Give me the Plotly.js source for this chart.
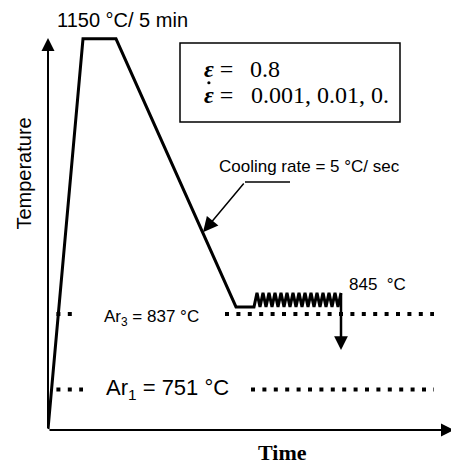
<!DOCTYPE html>
<html><head><meta charset="utf-8">
<script src="https://cdn.plot.ly/plotly-3.0.1.min.js"></script>
<style>html,body{margin:0;padding:0;background:#fff}#chart{width:451px;height:466px}</style>
</head><body><div id="chart"></div>
<script>
// Schematic thermomechanical schedule (time in arbitrary units, temperature in °C)
const profileTime = [0, 35, 68, 188,
  206, 209, 212, 215, 218, 221, 224, 227, 230, 233, 236, 239, 242, 245, 248,
  251, 254, 257, 260, 263, 266, 269, 272, 275, 278, 281, 284, 287, 290, 293];
const profileTemp = [706, 1150, 1150, 845,
  845, 861, 845, 861, 845, 861, 845, 861, 845, 861, 845, 861, 845, 861, 845,
  861, 845, 861, 845, 861, 845, 861, 845, 861, 845, 861, 845, 861, 845, 861];
const releaseTime = 293;
const releaseTemps = [861, 796];
const soakLabel = '1150 °C/ 5 min';
const deformLabel = '845  °C';
const coolingLabel = 'Cooling rate = 5 °C/ sec';
const levelNames = ['Ar<sub>3</sub>', 'Ar<sub>1</sub>'];
const levelTemps = [837, 751];
const strainValue = '0.8';
const strainRates = ['0.001', '0.01', '0.'];
const xTitle = 'Time';
const yTitle = 'Temperature';

const sans = 'Liberation Sans, Arial, sans-serif';
const serif = 'Liberation Serif, Times New Roman, serif';
const blk = '#000';

const trace = {
  x: profileTime, y: profileTemp, type: 'scatter', mode: 'lines',
  line: {color: blk, width: 3}, hoverinfo: 'skip', cliponaxis: false
};

function arrow(x, y, ax, ay, w, s) {
  return {x: x, y: y, ax: ax, ay: ay, xref: 'x', yref: 'y', axref: 'x', ayref: 'y',
    text: '', showarrow: true, arrowhead: 2, arrowsize: s, arrowwidth: w,
    arrowcolor: blk, standoff: 0, startstandoff: 0, font: {size: 1}};
}
function label(x, y, text, size, fam, extra) {
  return Object.assign({x: x, y: y, xref: 'x', yref: 'y', text: text, showarrow: false,
    xanchor: 'center', yanchor: 'middle', font: {family: fam, size: size, color: blk}}, extra || {});
}
function plabel(x, y, text, size, fam, extra) {
  return Object.assign(label(x, y, text, size, fam, extra), {xref: 'paper', yref: 'paper'});
}
function dotted(x0, x1, y) {
  return {type: 'line', xref: 'x', yref: 'y', x0: x0, x1: x1, y0: y, y1: y,
    line: {color: blk, width: 4, dash: '4px,7.4px'}};
}

const eps = '<b><i>ε</i></b> =';
const annotations = [
  arrow(0, 1151, 0, 705, 2, 1.3),
  arrow(406, 705, 0, 705, 2, 1.3),
  arrow(releaseTime, releaseTemps[1], releaseTime, releaseTemps[0], 2.5, 1.1),
  arrow(155, 930, 197, 987, 1.5, 2),
  plabel(0.185, 1.024, soakLabel, 20, sans),
  label(261.5, 1004.5, coolingLabel, 17, sans),
  label(329.5, 870, deformLabel, 17, sans),
  label(103.5, 832.5, levelNames[0] + ' = ' + levelTemps[0] + ' °C', 17, sans),
  label(119.5, 752, levelNames[1] + ' = ' + levelTemps[1] + ' °C', 22, sans),
  plabel(-0.059, 0.642, yTitle, 20, sans, {textangle: -90}),
  plabel(0.586, -0.055, '<b>' + xTitle + '</b>', 22, serif),
  label(154, 1115.6, eps, 24, serif, {xanchor: 'left'}),
  label(200, 1115.6, strainValue, 24, serif, {xanchor: 'left'}),
  label(154, 1086, eps, 24, serif, {xanchor: 'left'}),
  label(201, 1086, strainRates.join(', '), 24, serif, {xanchor: 'left'})
];

const shapes = [
  {type: 'line', xref: 'x', yref: 'y', x0: 197, x1: 242, y0: 987, y1: 987, line: {color: blk, width: 1.5}},
  {type: 'rect', xref: 'x', yref: 'y', x0: 132, x1: 352, y0: 1055.3, y1: 1145.2, line: {color: blk, width: 1.5}},
  {type: 'circle', xref: 'x', yref: 'y', x0: 159.3, x1: 162.5, y0: 1098.2, y1: 1101.8,
    fillcolor: blk, line: {color: blk, width: 0}},
  dotted(-3, 24, levelTemps[0]),
  dotted(177, 386, levelTemps[0]),
  dotted(-3, 35, levelTemps[1]),
  dotted(203, 386, levelTemps[1])
];

const layout = {
  width: 451, height: 466,
  margin: {l: 48, r: 3, t: 30, b: 36},
  paper_bgcolor: '#fff', plot_bgcolor: '#fff',
  showlegend: false,
  xaxis: {range: [0, 400], visible: false, fixedrange: true},
  yaxis: {range: [705, 1160], visible: false, fixedrange: true},
  annotations: annotations, shapes: shapes
};

Plotly.newPlot('chart', [trace], layout, {displayModeBar: false, staticPlot: true});
</script></body></html>
